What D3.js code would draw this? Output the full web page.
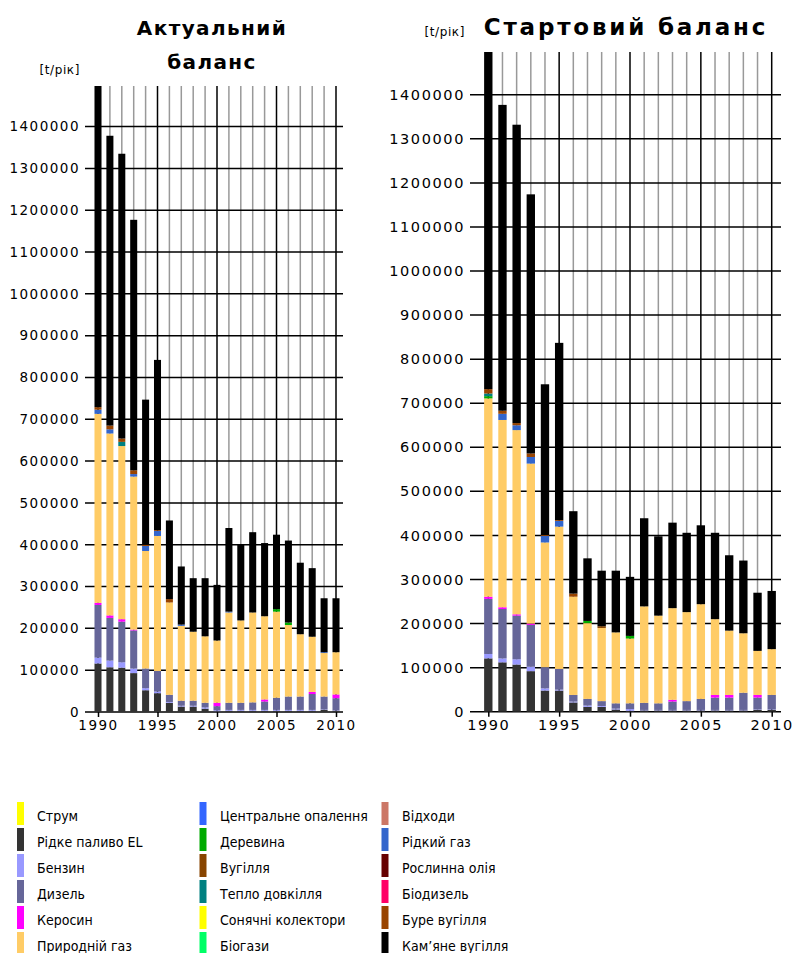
<!DOCTYPE html>
<html>
<head>
<meta charset="utf-8">
<script src="https://cdn.jsdelivr.net/npm/d3@7"></script>
<style>
  body { margin: 0; background: #fff; }
  svg { display: block; }
</style>
</head>
<body>
<svg id="chart" width="795" height="953"></svg>
<script>
const years = [1990, 1991, 1992, 1993, 1994, 1995, 1996, 1997, 1998, 1999, 2000,
               2001, 2002, 2003, 2004, 2005, 2006, 2007, 2008, 2009, 2010];

const carriers = ["Струм", "Рідке паливо EL", "Бензин", "Дизель", "Керосин", "Природній газ",
                  "Центральне опалення", "Деревина", "Вугілля", "Тепло довкілля", "Сонячні колектори", "Біогази",
                  "Відходи", "Рідкий газ", "Рослинна олія", "Біодизель", "Буре вугілля", "Кам’яне вугілля"];
const carrierColors = ["#ffff00", "#333333", "#9999ff", "#666699", "#ff00ff", "#ffcc66",
                       "#3366ff", "#00aa00", "#884400", "#008080", "#ffff00", "#00ff66",
                       "#cc7766", "#3366cc", "#660000", "#ff0066", "#994400", "#000000"];

const yTicks = [0, 100000, 200000, 300000, 400000, 500000, 600000, 700000,
                800000, 900000, 1000000, 1100000, 1200000, 1300000, 1400000];
const xTicks = [1990, 1995, 2000, 2005, 2010];

// Актуальний баланс, t/рік
const actEL     = [116000,107000,106000,93000,52000,45000,22000,13000,13000,8000,2000,3000,3000,3000,3000,3000,3000,3000,3000,5000,3000];
const actBenzin = [14000,16000,13000,11000,5000,4000,2000,2000,2000,3000,2000,2000,2000,2000,2000,2000,2000,2000,2000,1000,1000];
const actDiesel = [126000,102000,97000,91000,47000,49000,17000,12000,12000,11000,10000,17000,17000,18000,20000,29000,32000,32000,38000,31000,29000];
const actKeros  = [5000,6000,6000,2000,0,0,0,0,0,0,8000,0,0,0,5000,0,0,0,5000,0,9000];
const actGas    = [452000,435000,414000,366000,281000,323000,221000,179000,165000,159000,149000,216000,197000,215000,199000,206000,171000,149000,132000,104000,101000];
const actWood   = [0,0,0,0,0,0,0,0,0,0,0,0,0,0,0,6000,6000,0,0,0,0];
const actAmbient= [0,0,10000,0,0,0,0,0,0,0,0,0,0,0,0,0,0,0,0,0,0];
const actLPG    = [10000,10000,0,6000,12000,12000,0,3000,0,0,0,2000,0,0,0,0,0,0,0,2000,0];
const actLignite= [6000,9000,8000,9000,3000,2000,8000,0,0,0,0,0,0,0,0,0,0,0,0,0,0];
const actCoal   = [768000,693000,681000,599000,347000,407000,188000,139000,128000,139000,133000,200000,181000,192000,175000,178000,196000,171000,164000,129000,129000];

// Стартовий баланс, t/рік
const stEL      = [121000,112000,107000,92000,48000,48000,21000,11000,11000,5000,2000,3000,3000,3000,3000,3000,3000,3000,3000,4000,4000];
const stBenzin  = [10000,9000,12000,10000,5000,2000,2000,3000,2000,2000,4000,1000,1000,1000,1000,1000,1000,1000,1000,1000,1000];
const stDiesel  = [125000,112000,99000,95000,48000,47000,15000,15000,11000,12000,13000,16000,15000,19000,20000,25000,28000,28000,39000,27000,33000];
const stKeros   = [5000,4000,3000,3000,0,0,0,0,0,0,0,0,0,4000,0,0,6000,6000,0,6000,0];
const stGas     = [450000,425000,418000,363000,283000,323000,223000,172000,166000,161000,147000,219000,199000,208000,202000,215000,172000,146000,135000,100000,104000];
const stWood    = [5000,0,0,0,0,0,0,5000,0,0,6000,0,0,0,0,0,0,0,0,0,0];
const stHardCoal= [0,0,0,0,0,0,0,0,4000,0,0,0,0,0,0,0,0,0,0,0,0];
const stAmbient = [6000,0,0,0,0,0,0,0,0,0,0,0,0,0,0,0,0,0,0,0,0];
const stLPG     = [0,14000,11000,15000,15000,13000,0,0,0,0,0,0,0,0,0,0,0,0,0,0,0];
const stLignite = [10000,7000,5000,8000,2000,2000,7000,0,0,0,0,0,0,0,0,0,0,0,0,0,0];
const stCoal    = [765000,694000,677000,588000,342000,402000,187000,142000,126000,140000,134000,200000,180000,194000,180000,179000,196000,171000,165000,132000,132000];

const actualSeries = {
  "Рідке паливо EL": actEL, "Бензин": actBenzin, "Дизель": actDiesel, "Керосин": actKeros,
  "Природній газ": actGas, "Деревина": actWood, "Тепло довкілля": actAmbient,
  "Рідкий газ": actLPG, "Буре вугілля": actLignite, "Кам’яне вугілля": actCoal
};
const startSeries = {
  "Рідке паливо EL": stEL, "Бензин": stBenzin, "Дизель": stDiesel, "Керосин": stKeros,
  "Природній газ": stGas, "Деревина": stWood, "Вугілля": stHardCoal, "Тепло довкілля": stAmbient,
  "Рідкий газ": stLPG, "Буре вугілля": stLignite, "Кам’яне вугілля": stCoal
};

const svg = d3.select("#chart");
const color = d3.scaleOrdinal(carriers, carrierColors);
const yMax = 1497000;

function drawChart(seriesMap, cfg) {
  const keys = carriers.filter(k => seriesMap[k]);
  const rows = years.map((yr, i) => {
    const row = { year: yr };
    keys.forEach(k => row[k] = seriesMap[k][i]);
    return row;
  });
  const stacked = d3.stack().keys(keys)(rows);

  const x = d3.scalePoint().domain(years).range([cfg.c0, cfg.c1]);
  const y = d3.scaleLinear().domain([0, yMax]).range([cfg.y0, cfg.yTop]);
  const barW = x.step() * 0.59;

  const g = svg.append("g");

  // vertical grid (behind the bars)
  g.selectAll(".vgrid")
    .data(years)
    .enter()
    .append("line")
    .attr("x1", d => x(d)).attr("x2", d => x(d))
    .attr("y1", cfg.yTop).attr("y2", cfg.y0)
    .attr("stroke", d => d % 5 === 0 ? "#000" : "#999")
    .attr("stroke-width", cfg.lw);

  // horizontal grid
  g.selectAll(".hgrid")
    .data(yTicks)
    .enter()
    .append("line")
    .attr("x1", cfg.x0).attr("x2", cfg.x1)
    .attr("y1", d => y(d)).attr("y2", d => y(d))
    .attr("stroke", "#000")
    .attr("stroke-width", cfg.lw);

  // stacked bars
  g.selectAll(".layer")
    .data(stacked)
    .enter()
    .append("g")
    .attr("fill", d => color(d.key))
    .selectAll("rect")
    .data(d => d)
    .enter()
    .append("rect")
    .attr("x", d => x(d.data.year) - barW / 2)
    .attr("width", barW)
    .attr("y", d => y(d[1]))
    .attr("height", d => y(d[0]) - y(d[1]));

  // y axis labels
  const yAxis = g.append("g")
    .attr("transform", `translate(${cfg.x0},0)`)
    .call(d3.axisLeft(y).tickValues(yTicks).tickSize(0).tickPadding(cfg.x0 - cfg.labelX).tickFormat(d3.format("d")));
  yAxis.select(".domain").remove();
  yAxis.selectAll("text")
    .attr("fill", "#000")
    .style("font-family", "DejaVu Sans, sans-serif")
    .style("font-size", cfg.fs + "px")
    .style("letter-spacing", cfg.ls + "px");

  // x axis
  const xAxis = g.append("g")
    .attr("transform", `translate(0,${cfg.y0})`)
    .call(d3.axisBottom(x).tickValues(xTicks).tickSize(5).tickPadding(3));
  xAxis.select(".domain").remove();
  xAxis.selectAll("line").attr("stroke", "#000").attr("stroke-width", cfg.lw);
  xAxis.selectAll("text")
    .attr("fill", "#000")
    .style("font-family", "DejaVu Sans, sans-serif")
    .style("font-size", cfg.fs + "px")
    .style("letter-spacing", cfg.ls + "px");

  // title
  cfg.title.forEach((t, i) => {
    g.append("text")
      .attr("x", cfg.titleX)
      .attr("y", cfg.titleY + i * 34)
      .attr("text-anchor", "middle")
      .style("font-family", "DejaVu Sans, sans-serif")
      .style("font-size", cfg.tfs + "px")
      .style("font-weight", "bold")
      .style("letter-spacing", cfg.tls + "px")
      .text(t);
  });

  g.append("text")
    .attr("x", cfg.unitX)
    .attr("y", cfg.unitY)
    .attr("text-anchor", "end")
    .style("font-family", "DejaVu Sans, sans-serif")
    .style("font-size", "12px")
    .style("letter-spacing", "0.6px")
    .text("[t/рік]");
}

drawChart(actualSeries, {
  x0: 85, x1: 343, c0: 98, c1: 336, y0: 712, yTop: 86, labelX: 80,
  fs: 13.5, ls: 1.5, lw: 1.5,
  title: ["Актуальний", "баланс"], titleX: 212, titleY: 35, tfs: 20, tls: 1.4,
  unitX: 80, unitY: 74
});

drawChart(startSeries, {
  x0: 470, x1: 781, c0: 488.3, c1: 771.7, y0: 711.7, yTop: 52, labelX: 465,
  fs: 14.5, ls: 1.6, lw: 1.5,
  title: ["Стартовий баланс"], titleX: 626, titleY: 35, tfs: 23, tls: 2.8,
  unitX: 465, unitY: 36
});

// legend
const legendCols = [
  { sx: 17, tx: 37 },
  { sx: 199.5, tx: 220 },
  { sx: 381.5, tx: 402 }
];
const legend = svg.append("g");
carriers.forEach((name, i) => {
  const col = legendCols[Math.floor(i / 6)];
  const row = i % 6;
  const top = 802 + row * 26;
  legend.append("rect")
    .attr("x", col.sx).attr("y", top)
    .attr("width", 7).attr("height", 23)
    .attr("fill", color(name));
  legend.append("text")
    .attr("x", col.tx).attr("y", top + 19)
    .style("font-family", "DejaVu Sans Condensed, Liberation Sans Narrow, DejaVu Sans, sans-serif")
    .style("font-stretch", "condensed")
    .style("font-size", "14px")
    .text(name);
});
</script>
</body>
</html>
